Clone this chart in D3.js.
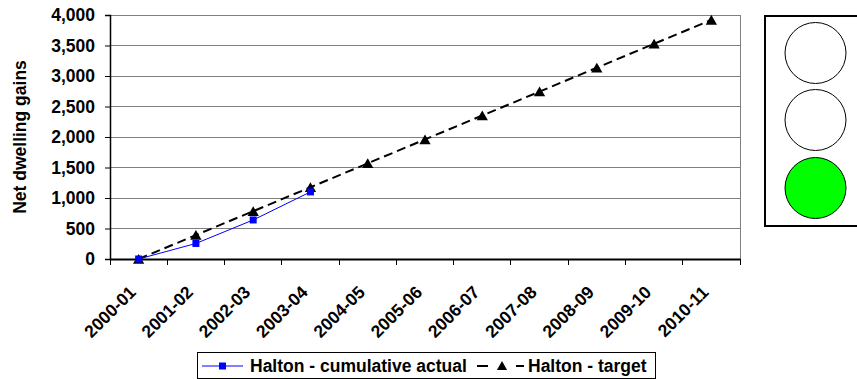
<!DOCTYPE html>
<html><head><meta charset="utf-8">
<script src="https://cdn.jsdelivr.net/npm/d3@7"></script>
<style>
html,body{margin:0;padding:0;background:#fff;overflow:hidden;}
text{font-family:Arial,"Liberation Sans",sans-serif;font-weight:bold;fill:#000;}
</style></head>
<body>
<svg id="c" width="857" height="379"></svg>
<script>
const categories = ["2000-01","2001-02","2002-03","2003-04","2004-05","2005-06","2006-07","2007-08","2008-09","2009-10","2010-11"];
const actualValues = [0, 255, 640, 1100];
const targetValues = [0, 392, 784, 1176, 1568, 1960, 2352, 2744, 3136, 3528, 3920];
const yTicks = [0, 500, 1000, 1500, 2000, 2500, 3000, 3500, 4000];
const seriesNames = ["Halton - cumulative actual", "Halton - target"];
const yTitle = "Net dwelling gains";
const lightStates = ["off", "off", "on"];

const FS = "17.5px";
const svg = d3.select("#c");
const L = 110, R = 740, T = 15, B = 259;
const x = d3.scaleBand().domain(categories).range([L, R]);
const y = d3.scaleLinear().domain([0, 4000]).range([B, T]);
const cx = d => x(d) + x.bandwidth() / 2;

// gridlines
svg.append("g").selectAll("line").data(yTicks.filter(v => v > 0)).join("line")
  .attr("x1", L).attr("x2", R).attr("y1", d => y(d)).attr("y2", d => y(d))
  .attr("stroke", "#808080").attr("stroke-width", 1).attr("shape-rendering", "crispEdges");
// right border
svg.append("line").attr("x1", R).attr("x2", R).attr("y1", T).attr("y2", B)
  .attr("stroke", "#808080").attr("shape-rendering", "crispEdges");

// y axis
const yAxis = svg.append("g").attr("transform", `translate(${L},0)`)
  .call(d3.axisLeft(y).tickValues(yTicks).tickSize(5).tickPadding(10).tickFormat(d3.format(",")));
yAxis.select(".domain").attr("stroke", "#000").attr("stroke-width", 1.5);
yAxis.selectAll(".tick line").attr("stroke", "#000");
yAxis.selectAll("text").style("font-size", FS).style("font-family", "Arial, 'Liberation Sans', sans-serif").style("font-weight", "bold");

// x axis
const xAxis = svg.append("g").attr("transform", `translate(0,${B})`)
  .call(d3.axisBottom(x).tickSize(0).tickFormat(""));
xAxis.select(".domain").attr("stroke", "#000").attr("stroke-width", 2);
// x ticks at band boundaries
const bounds = categories.map(c => x(c)).concat([R]);
svg.append("g").selectAll("line").data(bounds).join("line")
  .attr("x1", d => d).attr("x2", d => d).attr("y1", B).attr("y2", B + 6)
  .attr("stroke", "#000").attr("shape-rendering", "crispEdges");
// x labels
svg.append("g").selectAll("text").data(categories).join("text")
  .attr("transform", d => `translate(${cx(d) - 6},${B + 30}) rotate(-45)`)
  .attr("text-anchor", "end").attr("dy", "0.35em")
  .style("font-size", FS).text(d => d);

// y title
svg.append("text").attr("transform", `translate(26,${(T + B) / 2}) rotate(-90)`)
  .attr("text-anchor", "middle").style("font-size", FS).text(yTitle);

// target line
const tLine = d3.line().x((d, i) => cx(categories[i])).y(d => y(d));
svg.append("path").datum(targetValues).attr("d", tLine)
  .attr("fill", "none").attr("stroke", "#000").attr("stroke-width", 2).attr("stroke-dasharray", "9,5");
// actual line
svg.append("path").datum(actualValues).attr("d", tLine)
  .attr("fill", "none").attr("stroke", "#0000ff").attr("stroke-width", 1);
// markers
const tri = d3.symbol().type(d3.symbolTriangle).size(55);
svg.append("g").selectAll("path").data(targetValues).join("path")
  .attr("d", tri).attr("transform", (d, i) => `translate(${cx(categories[i])},${y(d) + 1.5})`)
  .attr("fill", "#000");
svg.append("g").selectAll("rect").data(actualValues).join("rect")
  .attr("x", (d, i) => cx(categories[i]) - 3.5).attr("y", d => y(d) - 3.5)
  .attr("width", 7).attr("height", 7).attr("fill", "#0000ff");

// legend
const lg = svg.append("g");
lg.append("rect").attr("x", 197.5).attr("y", 352.5).attr("width", 458).attr("height", 26)
  .attr("fill", "#fff").attr("stroke", "#000");
lg.append("line").attr("x1", 202).attr("x2", 243).attr("y1", 366).attr("y2", 366).attr("stroke", "#0000ff");
lg.append("rect").attr("x", 219).attr("y", 362.5).attr("width", 7).attr("height", 7).attr("fill", "#0000ff");
lg.append("text").attr("x", 250).attr("y", 372).style("font-size", FS).text(seriesNames[0]);
lg.append("line").attr("x1", 477).attr("x2", 488).attr("y1", 366).attr("y2", 366)
  .attr("stroke", "#000").attr("stroke-width", 2);
lg.append("line").attr("x1", 516).attr("x2", 524).attr("y1", 366).attr("y2", 366)
  .attr("stroke", "#000").attr("stroke-width", 2);
lg.append("path").attr("d", d3.symbol().type(d3.symbolTriangle).size(45)).attr("transform", "translate(502,367)").attr("fill", "#000");
lg.append("text").attr("x", 528).attr("y", 372).style("font-size", FS).text(seriesNames[1]);

// traffic light
svg.append("rect").attr("x", 765).attr("y", 16).attr("width", 110).attr("height", 210)
  .attr("fill", "#fff").attr("stroke", "#000").attr("stroke-width", 2);
const lightY = [53, 120, 188];
svg.append("g").selectAll("circle").data(lightStates).join("circle")
  .attr("cx", 815.5).attr("cy", (d, i) => lightY[i]).attr("r", 30.5)
  .attr("fill", d => d === "on" ? "#00ff00" : "#fff").attr("stroke", "#000").attr("stroke-width", 1);
</script>
</body></html>
